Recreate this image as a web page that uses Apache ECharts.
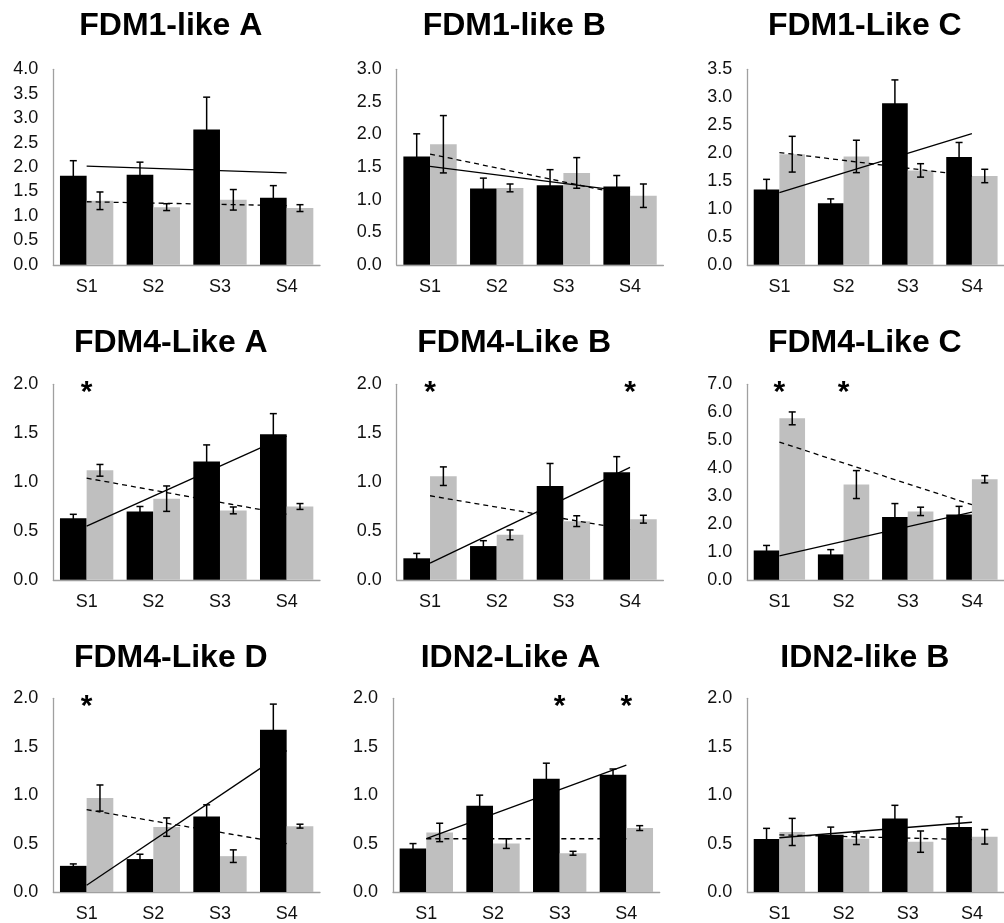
<!DOCTYPE html>
<html>
<head>
<meta charset="utf-8">
<script src="https://cdn.jsdelivr.net/npm/echarts@6/dist/echarts.min.js"></script>
<style>
html,body{margin:0;padding:0;background:#fff;}
#chart{width:1004px;height:923px;}
</style>
</head>
<body>
<div id="chart"></div>
<script>
// ---------- DATA ----------
const categories = ['S1', 'S2', 'S3', 'S4'];
const panelTitles = ['FDM1-like A', 'FDM1-like B', 'FDM1-Like C',
                     'FDM4-Like A', 'FDM4-Like B', 'FDM4-Like C',
                     'FDM4-Like D', 'IDN2-Like A', 'IDN2-like B'];
const yMaxValues = [4, 3, 3.5, 2, 2, 7, 2, 2, 2];
const yStepValues = [0.5, 0.5, 0.5, 0.5, 0.5, 1, 0.5, 0.5, 0.5];

// FDM1-like A
const fdm1A_black = [1.82, 1.84, 2.77, 1.37];
const fdm1A_blackErr = [0.31, 0.26, 0.66, 0.25];
const fdm1A_gray = [1.31, 1.18, 1.33, 1.16];
const fdm1A_grayErr = [0.18, 0.07, 0.21, 0.07];
const fdm1A_trendBlack = [2.02, 1.88];
const fdm1A_trendGray = [1.29, 1.21];
const fdm1A_stars = [];

// FDM1-like B
const fdm1B_black = [1.66, 1.17, 1.22, 1.20];
const fdm1B_blackErr = [0.35, 0.16, 0.24, 0.17];
const fdm1B_gray = [1.85, 1.18, 1.41, 1.06];
const fdm1B_grayErr = [0.44, 0.06, 0.235, 0.18];
const fdm1B_trendBlack = [1.51, 1.12];
const fdm1B_trendGray = [1.70, 1.06];
const fdm1B_stars = [];

// FDM1-Like C
const fdm1C_black = [1.35, 1.10, 2.89, 1.93];
const fdm1C_blackErr = [0.18, 0.08, 0.42, 0.26];
const fdm1C_gray = [1.98, 1.94, 1.69, 1.59];
const fdm1C_grayErr = [0.32, 0.29, 0.12, 0.12];
const fdm1C_trendBlack = [1.29, 2.35];
const fdm1C_trendGray = [2.01, 1.59];
const fdm1C_stars = [];

// FDM4-Like A
const fdm4A_black = [0.63, 0.70, 1.21, 1.49];
const fdm4A_blackErr = [0.04, 0.05, 0.17, 0.21];
const fdm4A_gray = [1.12, 0.83, 0.71, 0.75];
const fdm4A_grayErr = [0.06, 0.13, 0.035, 0.03];
const fdm4A_trendBlack = [0.55, 1.47];
const fdm4A_trendGray = [1.04, 0.67];
const fdm4A_stars = ['S1'];

// FDM4-Like B
const fdm4B_black = [0.22, 0.345, 0.96, 1.10];
const fdm4B_blackErr = [0.05, 0.055, 0.23, 0.16];
const fdm4B_gray = [1.06, 0.46, 0.60, 0.62];
const fdm4B_grayErr = [0.095, 0.05, 0.055, 0.04];
const fdm4B_trendBlack = [0.17, 1.15];
const fdm4B_trendGray = [0.86, 0.51];
const fdm4B_stars = ['S1', 'S4'];

// FDM4-Like C
const fdm4C_black = [1.05, 0.91, 2.25, 2.34];
const fdm4C_blackErr = [0.18, 0.17, 0.48, 0.29];
const fdm4C_gray = [5.78, 3.41, 2.45, 3.60];
const fdm4C_grayErr = [0.23, 0.50, 0.15, 0.13];
const fdm4C_trendBlack = [0.86, 2.42];
const fdm4C_trendGray = [4.93, 2.69];
const fdm4C_stars = ['S1', 'S2'];

// FDM4-Like D
const fdm4D_black = [0.27, 0.34, 0.78, 1.675];
const fdm4D_blackErr = [0.02, 0.05, 0.12, 0.265];
const fdm4D_gray = [0.97, 0.67, 0.37, 0.68];
const fdm4D_grayErr = [0.135, 0.095, 0.065, 0.02];
const fdm4D_trendBlack = [0.07, 1.46];
const fdm4D_trendGray = [0.85, 0.50];
const fdm4D_stars = ['S1'];

// IDN2-Like A
const idn2A_black = [0.45, 0.89, 1.17, 1.21];
const idn2A_blackErr = [0.05, 0.11, 0.16, 0.06];
const idn2A_gray = [0.615, 0.50, 0.40, 0.66];
const idn2A_grayErr = [0.095, 0.05, 0.02, 0.025];
const idn2A_trendBlack = [0.55, 1.31];
const idn2A_trendGray = [0.55, 0.55];
const idn2A_stars = ['S3', 'S4'];

// IDN2-like B
const idn2B_black = [0.547, 0.59, 0.76, 0.67];
const idn2B_blackErr = [0.11, 0.08, 0.135, 0.105];
const idn2B_gray = [0.62, 0.55, 0.52, 0.57];
const idn2B_grayErr = [0.14, 0.06, 0.11, 0.075];
const idn2B_trendBlack = [0.56, 0.72];
const idn2B_trendGray = [0.59, 0.54];
const idn2B_stars = [];

const panelBlack = [fdm1A_black, fdm1B_black, fdm1C_black, fdm4A_black, fdm4B_black, fdm4C_black, fdm4D_black, idn2A_black, idn2B_black];
const panelBlackErr = [fdm1A_blackErr, fdm1B_blackErr, fdm1C_blackErr, fdm4A_blackErr, fdm4B_blackErr, fdm4C_blackErr, fdm4D_blackErr, idn2A_blackErr, idn2B_blackErr];
const panelGray = [fdm1A_gray, fdm1B_gray, fdm1C_gray, fdm4A_gray, fdm4B_gray, fdm4C_gray, fdm4D_gray, idn2A_gray, idn2B_gray];
const panelGrayErr = [fdm1A_grayErr, fdm1B_grayErr, fdm1C_grayErr, fdm4A_grayErr, fdm4B_grayErr, fdm4C_grayErr, fdm4D_grayErr, idn2A_grayErr, idn2B_grayErr];
const panelTrendBlack = [fdm1A_trendBlack, fdm1B_trendBlack, fdm1C_trendBlack, fdm4A_trendBlack, fdm4B_trendBlack, fdm4C_trendBlack, fdm4D_trendBlack, idn2A_trendBlack, idn2B_trendBlack];
const panelTrendGray = [fdm1A_trendGray, fdm1B_trendGray, fdm1C_trendGray, fdm4A_trendGray, fdm4B_trendGray, fdm4C_trendGray, fdm4D_trendGray, idn2A_trendGray, idn2B_trendGray];
const panelStars = [fdm1A_stars, fdm1B_stars, fdm1C_stars, fdm4A_stars, fdm4B_stars, fdm4C_stars, fdm4D_stars, idn2A_stars, idn2B_stars];

// ---------- LAYOUT ----------
const FONT = '"Liberation Sans", Arial, sans-serif';
const colLeft = [53.3, 396.7, 747.3];
const rowTop = [69.3, 384.3, 698.3];
const plotW = 266.7, plotH = 195.5;
const titleCenterY = [27.5, 343.7, 659];
const TITLE_SIZE = 32;
const LABEL_SIZE = 18;

function gridLeft(i) {
  const r = Math.floor(i / 3), c = i % 3;
  if (r === 2 && c === 1) return 393;
  return colLeft[c];
}

function errRender(offset) {
  return function (params, api) {
    const idx = api.value(0), m = api.value(1), e = api.value(2);
    const band = api.size([1, 0])[0];
    const c = api.coord([idx, m]);
    const x = c[0] + offset * band;
    const yTop = api.coord([idx, m + e])[1];
    const yBot = api.coord([idx, m - e])[1];
    const cap = 3.5;
    const style = { stroke: '#000', lineWidth: 1.5 };
    return {
      type: 'group', children: [
        { type: 'line', shape: { x1: x, y1: yTop, x2: x, y2: yBot }, style: style },
        { type: 'line', shape: { x1: x - cap, y1: yTop, x2: x + cap, y2: yTop }, style: style },
        { type: 'line', shape: { x1: x - cap, y1: yBot, x2: x + cap, y2: yBot }, style: style }
      ]
    };
  };
}

function starRender(params, api) {
  const c = api.coord([api.value(0), api.value(1)]);
  return {
    type: 'text', x: c[0], y: c[1] + 8.5,
    style: { text: '*', font: 'bold 30px ' + FONT, align: 'center', verticalAlign: 'middle', fill: '#000' }
  };
}

const grids = [], xAxes = [], yAxes = [], titles = [], series = [];
for (let i = 0; i < 9; i++) {
  const r = Math.floor(i / 3);
  const left = gridLeft(i);
  grids.push({ left: left, top: rowTop[r], width: plotW, height: plotH, containLabel: false });
  xAxes.push({
    type: 'category', gridIndex: i, data: categories, boundaryGap: true,
    axisLine: { show: true, lineStyle: { color: '#a0a0a0', width: 1.3 } },
    axisTick: { show: false },
    axisLabel: { color: '#111', fontSize: LABEL_SIZE, fontFamily: FONT, margin: 13 },
    splitLine: { show: false }
  });
  yAxes.push({
    type: 'value', gridIndex: i, min: 0, max: yMaxValues[i], interval: yStepValues[i],
    axisLine: { show: true, lineStyle: { color: '#a0a0a0', width: 1.3 } },
    axisTick: { show: false },
    splitLine: { show: false },
    axisLabel: {
      color: '#111', fontSize: LABEL_SIZE, fontFamily: FONT, margin: 15,
      formatter: function (v) { return v.toFixed(1); }
    }
  });
  titles.push({
    text: panelTitles[i], left: left + 117.5, textAlign: 'center',
    top: titleCenterY[r] - TITLE_SIZE / 2 - 1, padding: 0,
    textStyle: { fontSize: TITLE_SIZE, fontWeight: 'bold', color: '#000', fontFamily: FONT }
  });

  series.push({
    type: 'bar', xAxisIndex: i, yAxisIndex: i, data: panelBlack[i],
    itemStyle: { color: '#000000' }, barGap: '0%', barCategoryGap: '20%', z: 2
  });
  series.push({
    type: 'bar', xAxisIndex: i, yAxisIndex: i, data: panelGray[i],
    itemStyle: { color: '#bfbfbf' }, barGap: '0%', barCategoryGap: '20%', z: 2
  });
  const tb = panelTrendBlack[i], tg = panelTrendGray[i];
  series.push({
    type: 'line', xAxisIndex: i, yAxisIndex: i, data: [tb[0], '-', '-', tb[1]],
    connectNulls: true, symbol: 'none', lineStyle: { color: '#000', width: 1.3 }, z: 3
  });
  series.push({
    type: 'line', xAxisIndex: i, yAxisIndex: i, data: [tg[0], '-', '-', tg[1]],
    connectNulls: true, symbol: 'none', lineStyle: { color: '#000', width: 1.3, type: [5, 4] }, z: 3
  });
  series.push({
    type: 'custom', xAxisIndex: i, yAxisIndex: i, renderItem: errRender(-0.2),
    encode: { x: 0, y: 1 }, z: 4,
    data: panelBlack[i].map(function (v, k) { return [k, v, panelBlackErr[i][k]]; })
  });
  series.push({
    type: 'custom', xAxisIndex: i, yAxisIndex: i, renderItem: errRender(0.2),
    encode: { x: 0, y: 1 }, z: 4,
    data: panelGray[i].map(function (v, k) { return [k, v, panelGrayErr[i][k]]; })
  });
  if (panelStars[i].length) {
    series.push({
      type: 'custom', xAxisIndex: i, yAxisIndex: i, renderItem: starRender,
      encode: { x: 0, y: 1 }, z: 5, clip: false,
      data: panelStars[i].map(function (s) { return [categories.indexOf(s), yMaxValues[i]]; })
    });
  }
}

const chart = echarts.init(document.getElementById('chart'), null, { renderer: 'canvas' });
chart.setOption({
  animation: false,
  backgroundColor: '#ffffff',
  title: titles,
  grid: grids,
  xAxis: xAxes,
  yAxis: yAxes,
  series: series
});
</script>
</body>
</html>
